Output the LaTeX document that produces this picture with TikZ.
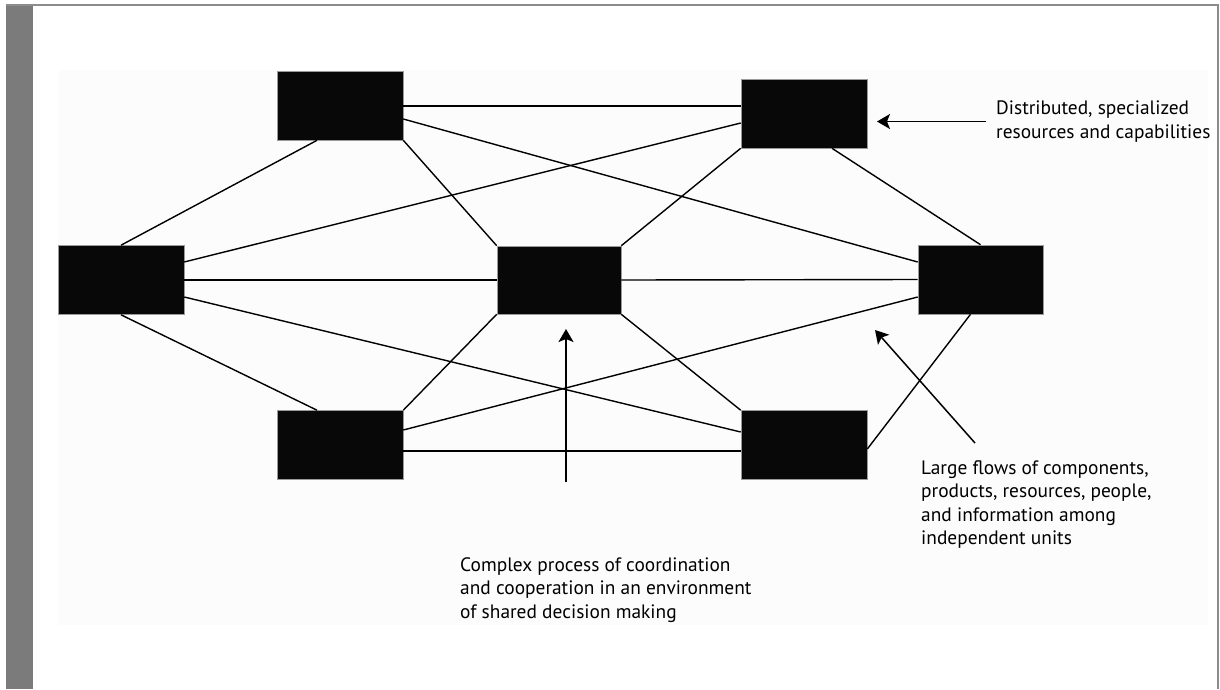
\documentclass[tikz,border=0pt]{standalone}
\usepackage{fontspec}
\setmainfont{PT Sans}
\usetikzlibrary{calc,arrows.meta}
\definecolor{framegray}{HTML}{7B7B7B}
\definecolor{rulegray}{HTML}{8C8C8C}
\definecolor{panelfill}{HTML}{FCFCFC}
\definecolor{boxblack}{HTML}{080808}
\definecolor{boxedge}{HTML}{9A9A9A}
\tikzset{
  unit/.style={rectangle, minimum width=126pt, minimum height=69pt, inner sep=0pt,
    fill=boxblack, draw=boxedge, line width=0.6pt},
  link/.style={draw=black, line width=1.4pt},
  pointer/.style={draw=black, line width=1.5pt, -{Stealth[length=13pt, width=15pt, inset=3pt]}},
  note/.style={inner sep=0pt, align=left, font=\fontsize{19.4}{23.2}\selectfont}
}
\begin{document}
\begin{tikzpicture}[x=1pt, y=-1pt]
  \useasboundingbox (0,0) rectangle (1220,689);
  % page, side bar and frame
  \fill[white] (0,0) rectangle (1220,689);
  \fill[panelfill] (58,70) rectangle (1208,624.5);
  \fill[framegray] (6,4) rectangle (32.5,689);
  \fill[rulegray] (6,4) rectangle (1219,6);
  \fill[rulegray] (1216.8,4) rectangle (1219,689);

  % units of the network
  \node[unit] (TL) at (340,105.5) {};
  \node[unit] (TR) at (804,113.5) {};
  \node[unit] (L)  at (121,280) {};
  \node[unit, minimum width=124pt, minimum height=68pt] (C) at (559,280) {};
  \node[unit, minimum width=125pt] (R) at (980.5,279.5) {};
  \node[unit] (BL) at (340,445) {};
  \node[unit] (BR) at (804,445) {};

  % links between units
  \draw[link] ($(TL.east)+(0,0.5)$) -- ($(TR.west)+(0,-7.5)$);
  \draw[link] ($(TL.south)+(-23,0)$) -- (L.north);
  \draw[link] (TL.south east) -- (C.north west);
  \draw[link] ($(TL.east)+(0,13.5)$) -- ($(R.west)+(0,-17.5)$);
  \draw[link] ($(TR.west)+(0,9.5)$) -- ($(L.east)+(0,-18)$);
  \draw[link] (TR.south west) -- (C.north east);
  \draw[link] ($(TR.south)+(28,0)$) -- (R.north);
  \draw[link] (L.east) -- (C.west);
  \draw[link] (C.east) -- (R.west);
  \draw[link] (L.south) -- ($(BL.north)+(-23,0)$);
  \draw[link] ($(L.east)+(0,17)$) -- ($(BR.west)+(0,-13)$);
  \draw[link] (C.south west) -- (BL.north east);
  \draw[link] (C.south east) -- (BR.north west);
  \draw[link] ($(R.west)+(0,17.5)$) -- ($(BL.east)+(0,-15)$);
  \draw[link] ($(R.south)+(-10,0)$) -- ($(BR.east)+(0,4)$);
  \draw[link] ($(BL.east)+(0,6)$) -- ($(BR.west)+(0,6)$);

  % annotations
  \node[note, anchor=west] (dtext) at (996,121.5)
    {Distributed, specialized\\resources and capabilities};
  \node[note, anchor=west] (ctext) at (460,590)
    {Complex process of coordination\\and cooperation in an environment\\of shared decision making};
  \node[note, anchor=west] (ltext) at (921,504.5)
    {Large flows of components,\\products, resources, people,\\and information among\\independent units};

  \coordinate (dtail) at (986,121.5);
  \coordinate (dtip)  at (877,121.5);
  \coordinate (ctail) at (566,482);
  \coordinate (ctip)  at (566,329);
  \coordinate (ltail) at (975,443);
  \coordinate (ltip)  at (875,330);
  \draw[pointer] (dtail) -- (dtip);
  \draw[pointer] (ctail) -- (ctip);
  \draw[pointer] (ltail) -- (ltip);
\end{tikzpicture}
\end{document}
